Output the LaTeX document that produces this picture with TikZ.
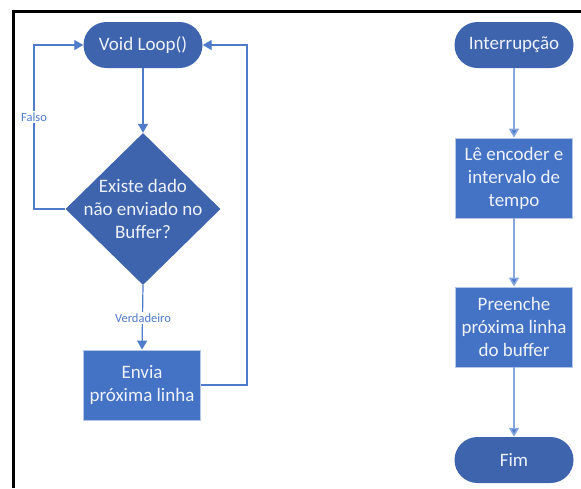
\documentclass[tikz,border=0pt]{standalone}
\usepackage{fontspec}
\setmainfont{Carlito}
\usetikzlibrary{shapes.geometric,arrows.meta,positioning}
\definecolor{darkbox}{HTML}{3D64AD}
\definecolor{procbox}{HTML}{4472C4}
\definecolor{procedge}{HTML}{B4C7E7}
\definecolor{boxtext}{HTML}{EEF2FA}
\definecolor{linkblue}{HTML}{4F7BCB}
\definecolor{linklight}{HTML}{86A6DD}
\tikzstyle{term}=[fill=darkbox,rounded corners=23pt,minimum width=119pt,
minimum height=46pt,text=boxtext,font=\fontsize{19}{23}\selectfont]
\tikzstyle{proc}=[fill=procbox,draw=procedge,line width=0.8pt,minimum width=117pt,
text=boxtext,align=center,font=\fontsize{19}{23}\selectfont]
\tikzstyle{decide}=[diamond,fill=darkbox,minimum width=155pt,minimum height=152pt,
inner sep=-9pt,text=boxtext,align=center,font=\fontsize{19}{23}\selectfont]
\tikzstyle{flow}=[draw=linkblue,line width=1.2pt,->]
\tikzstyle{flowlight}=[draw=linklight,line width=1.6pt,
-{Triangle[width=10pt,length=9pt,fill=linkblue]}]
\tikzstyle{lbl}=[fill=white,text=linkblue,inner sep=1.5pt,font=\fontsize{12.5}{14}\selectfont]

\begin{document}
\begin{tikzpicture}[x=1pt,y=-1pt,>={Triangle[width=10pt,length=9pt]}]
        \useasboundingbox (0,0) rectangle (581,488);
        \draw[line width=3pt] (13,488) -- (13,11.5) -- (581,11.5);

        % laco principal
        \node[term] at (143,45) (loop) {Void Loop()};
        \node[decide] at (143,209) (dec) {Existe dado\\n\~ao enviado no\\Buffer?};
        \node[proc,minimum height=70pt] at (142,385) (envia) {Envia\\pr\'oxima linha};

        \coordinate (falsoTop) at (34,45);
        \coordinate (voltaTop) at (247,45);

        % interrupcao
        \node[term] at (514,45) (irq) {Interrup\c{c}\~ao};
        \node[proc,minimum height=80pt] at (514,178) (le) {L\^e encoder e\\intervalo de\\tempo};
        \node[proc,minimum height=80pt] at (514,327) (preenche) {Preenche\\pr\'oxima linha\\do buffer};
        \node[term] at (514,460) (fim) {Fim};

        \draw[flow] (loop) -- (dec);
        \draw[flow] (dec.west) -| (falsoTop) -- (loop.west);
        \draw[flow] (dec.south) -- (envia.north);
        \draw[flow] (envia.east) -| (voltaTop) -- (loop.east);
        \node[lbl] at (34,117) (falso) {Falso};
        \node[lbl] at (143,318) (verd) {Verdadeiro};

        \draw[flowlight] (irq) -- (le);
        \draw[flowlight] (le) -- (preenche);
        \draw[flowlight] (preenche) -- (fim);
      \end{tikzpicture}
\end{document}
